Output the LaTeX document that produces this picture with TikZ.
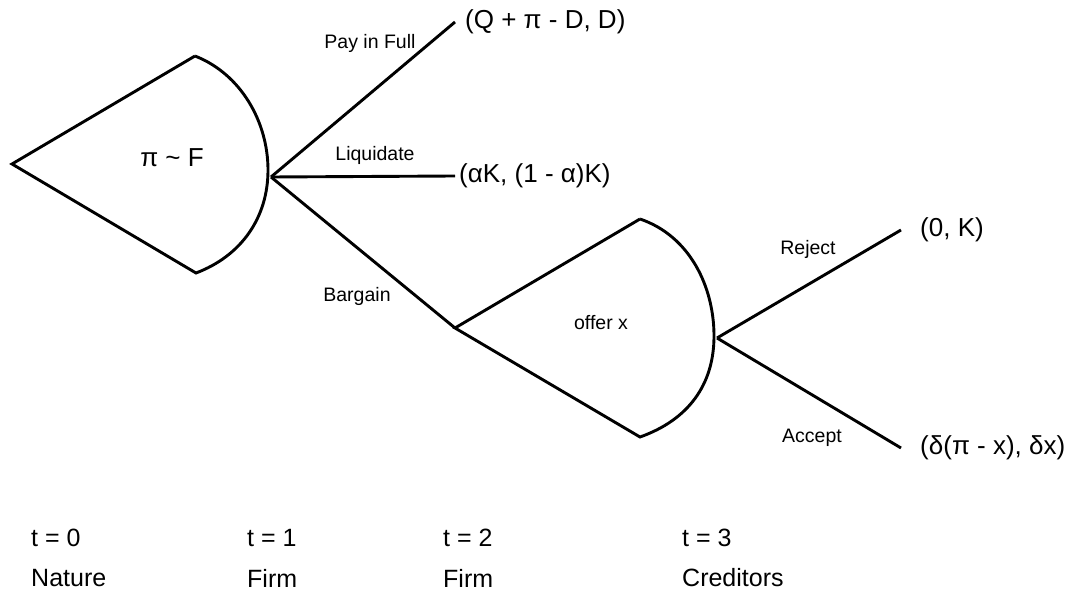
\documentclass[tikz,border=0pt]{standalone}
\usepackage{fontspec}
\setmainfont{Liberation Sans}
\usetikzlibrary{positioning}

\tikzset{
    branch/.style={line width=2.9pt},
    chance/.style={font=\fontsize{26}{30}\selectfont, inner sep=0pt},
    move/.style={font=\fontsize{19.5}{22}\selectfont, inner sep=0pt},
    payoff/.style={font=\fontsize{26}{30}\selectfont, inner sep=0pt},
    stage/.style={font=\fontsize{25}{28}\selectfont, inner sep=0pt, anchor=west}
}

\begin{document}
\begin{tikzpicture}[x=1pt, y=-1pt]
    \useasboundingbox (0,0) rectangle (1068,593);

    \coordinate (nature) at (12,164);
    \coordinate (natureTop) at (195,56);
    \coordinate (natureBot) at (196,273);
    \coordinate (firmOne) at (271,177);
    \coordinate (firmTwo) at (455,328);
    \coordinate (offerTop) at (640,219);
    \coordinate (offerBot) at (640,437);
    \coordinate (creditors) at (717,338);
    \coordinate (payEnd) at (455,22);
    \coordinate (liqEnd) at (455,176);
    \coordinate (rejEnd) at (901,230);
    \coordinate (accEnd) at (901,448);

    \draw[branch] (natureTop) -- (nature) -- (natureBot)
        .. controls (241,256) and (268,218) .. (268,170)
        .. controls (268,122) and (241,74) .. (natureTop);
    \draw[branch] (offerTop) -- (firmTwo) -- (offerBot)
        .. controls (688,420) and (714,385) .. (714,336)
        .. controls (714,287) and (690,236) .. (offerTop);

    \draw[branch] (firmOne) -- (payEnd);
    \draw[branch] (firmOne) -- (liqEnd);
    \draw[branch] (firmOne) -- (firmTwo);
    \draw[branch] (creditors) -- (rejEnd);
    \draw[branch] (creditors) -- (accEnd);

    \node[chance] (draw) at (172,158) {π \textasciitilde{} F};
    \node[chance, font=\fontsize{19.5}{22}\selectfont] (offer) at (601,323) {offer x};

    \node[move] (pay) at (370,43) {Pay in Full};
    \node[move] (liquidate) at (375,155) {Liquidate};
    \node[move] (bargain) at (357,296) {Bargain};
    \node[move] (reject) at (808,249) {Reject};
    \node[move] (accept) at (812,438) {Accept};

    \node[payoff, right=10pt of payEnd] (payFull) {(Q + π - D, D)};
    \node[payoff, right=4pt of liqEnd] (payLiq) {(αK, (1 - α)K)};
    \node[payoff, right=19pt of rejEnd] (payRej) {(0, K)};
    \node[payoff, right=19pt of accEnd] (payAcc) {(δ(π - x), δx)};

    \node[stage] (t0) at (31,538) {t = 0};
    \node[stage] (t1) at (247,538) {t = 1};
    \node[stage] (t2) at (443,538) {t = 2};
    \node[stage] (t3) at (682,538) {t = 3};
    \node[stage] (p0) at (31,578) {Nature};
    \node[stage] (p1) at (247,578) {Firm};
    \node[stage] (p2) at (443,578) {Firm};
    \node[stage] (p3) at (682,578) {Creditors};
\end{tikzpicture}
\end{document}
